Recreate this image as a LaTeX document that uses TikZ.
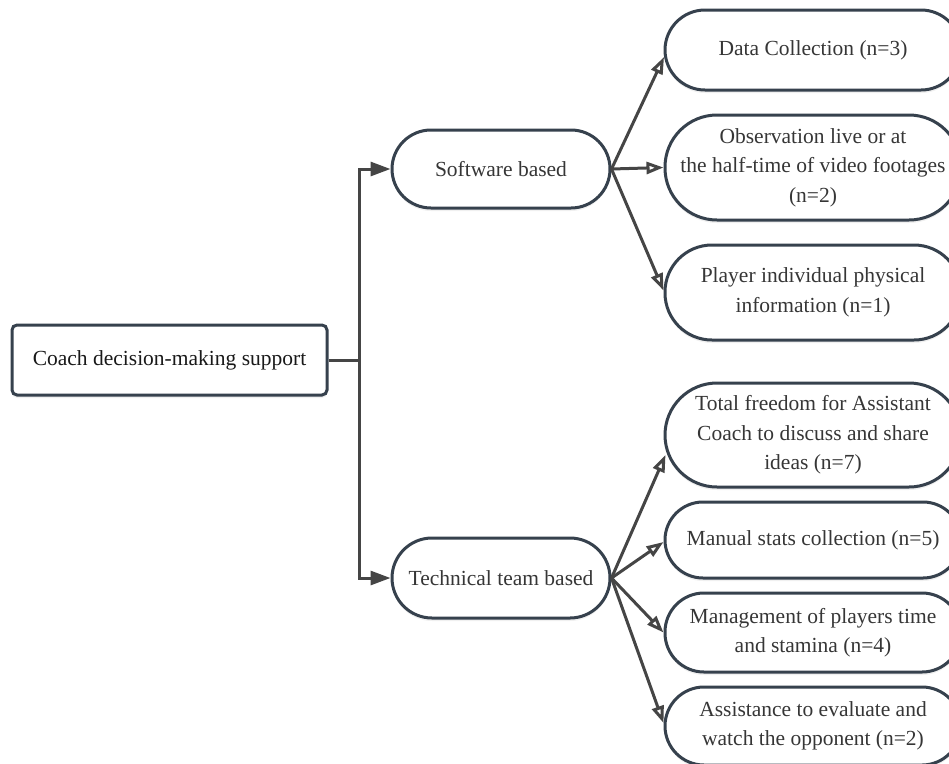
\documentclass[tikz,border=0pt]{standalone}
\usepackage{fontspec}
\setmainfont{Liberation Serif}
\usetikzlibrary{arrows.meta,calc,shadows}
\definecolor{edgeblue}{HTML}{36414D}
\definecolor{linegray}{HTML}{454545}
\definecolor{txtgray}{HTML}{363636}
\tikzset{
  box/.style={draw=edgeblue, line width=3pt, fill=white, text=txtgray,
    font=\fontsize{21.5}{29.5}\selectfont, align=center, inner sep=0pt,
    drop shadow={opacity=0.12, shadow xshift=0pt, shadow yshift=-3pt}},
  rootbox/.style={box, rounded corners=5pt, text=black!90},
  pill/.style={box, rounded corners=#1},
  link/.style={draw=linegray, line width=3pt},
  solidarrow/.style={link, -{Triangle[length=20pt,width=14pt]}},
  openarrow/.style={link, -{Triangle[open,length=17pt,width=12pt,fill=white]}},
}
\begin{document}
\begin{tikzpicture}[x=1pt, y=-1pt]
\useasboundingbox (0,0) rectangle (949,763);

% root
\node[rootbox, minimum width=315pt, minimum height=70pt] (root) at (169.5,360) {Coach decision-making support};

% second level
\node[pill=39pt, minimum width=218pt, minimum height=78pt] (sw) at (501,169) {Software based};
\node[pill=40pt, minimum width=218pt, minimum height=80pt] (tt) at (501,578) {Technical team based};

% third level, software
\node[pill=40pt, minimum width=296pt, minimum height=80pt] (dc) at (813,50) {Data Collection (n=3)};
\node[pill=52pt, minimum width=296pt, minimum height=105pt] (obs) at (813,167.5) {Observation live or at\\the half-time of video footages\\(n=2)};
\node[pill=47pt, minimum width=296pt, minimum height=95pt] (pl) at (813,292.5) {Player individual physical\\information (n=1)};

% third level, technical team
\node[pill=52pt, minimum width=296pt, minimum height=104pt] (tf) at (813,435) {Total freedom for Assistant\\Coach to discuss and share\\ideas (n=7)};
\node[pill=38pt, minimum width=296pt, minimum height=76pt] (ms) at (813,540) {Manual stats collection (n=5)};
\node[pill=39pt, minimum width=296pt, minimum height=79pt] (mg) at (813,632.5) {Management of players time\\and stamina (n=4)};
\node[pill=39pt, minimum width=296pt, minimum height=78pt] (as) at (813,726) {Assistance to evaluate and\\watch the opponent (n=2)};

% bracket from the root
\coordinate (fork) at (359,360);
\draw[link] (root.east) -- (fork);
\draw[solidarrow] (fork) |- (sw.west);
\draw[solidarrow] (fork) |- (tt.west);

% fans
\draw[openarrow] (sw.east) -- ($(dc.west)+(0.5,7)$);
\draw[openarrow] (sw.east) -- (obs.west);
\draw[openarrow] (sw.east) -- ($(pl.west)+(0,-2)$);
\draw[openarrow] (tt.east) -- ($(tf.west)+(2,20)$);
\draw[openarrow] (tt.east) -- ($(ms.west)+(0,2)$);
\draw[openarrow] (tt.east) -- (mg.west);
\draw[openarrow] (tt.east) -- ($(as.west)+(0,-3)$);
\end{tikzpicture}
\end{document}
